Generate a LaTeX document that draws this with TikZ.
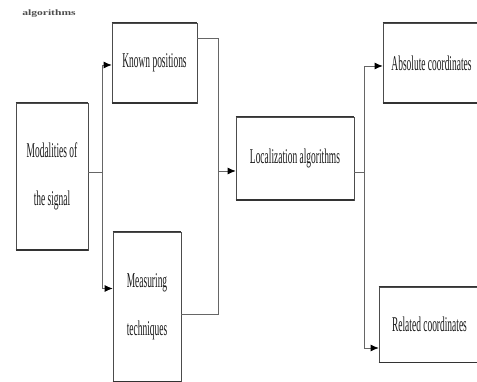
\documentclass[tikz,border=0pt]{standalone}
\usepackage{fontspec}
\setmainfont{Liberation Serif}
\usepackage{graphicx}
\usetikzlibrary{arrows.meta}
\newcommand{\sqz}[1]{\scalebox{0.45}[1]{#1}}
\begin{document}
\begin{tikzpicture}[x=1pt,y=-1pt,
  box/.style={draw=black!70, line width=0.6pt, inner sep=0pt, font=\fontsize{21}{48}\selectfont, text=black!90, align=center},
  edge/.style={draw=black!80, line width=1.6pt},
  conn/.style={draw=black!60, line width=0.8pt},
  arr/.style={conn, -{Latex[length=8pt,width=7pt,fill=black,color=black]}}]
\useasboundingbox (0,0) rectangle (477,382);
\node[font=\fontsize{11}{12}\selectfont\bfseries, text=black!70] (cap) at (49,14) {\scalebox{1.05}[0.75]{algorithms}};
\node[box, minimum width=72pt, minimum height=147pt] (mod) at (52,176.5) {\sqz{Modalities of}\\\sqz{the signal}};
\node[box, minimum width=85pt, minimum height=80pt] (known) at (154.5,63) {\sqz{Known positions}};
\node[box, minimum width=68pt, minimum height=149pt] (meas) at (147,306.5) {\sqz{Measuring}\\\sqz{techniques}};
\node[box, minimum width=118pt, minimum height=83pt] (loc) at (295,158.5) {\sqz{Localization algorithms}};
\node[box, minimum width=97pt, minimum height=80pt] (abs) at (431.5,63) {\sqz{Absolute coordinates}};
\node[box, minimum width=101pt, minimum height=75pt] (rel) at (429.5,324.5) {\sqz{Related coordinates}};
\foreach \n in {mod,known,meas,loc,abs,rel}{
  \draw[edge] (\n.north west) -- (\n.north east);
  \draw[edge] (\n.south west) -- (\n.south east);
}
\coordinate (j1) at (102,172);
\coordinate (j2) at (218,171);
\coordinate (j3) at (364,172);
\draw[conn] (mod.east |- j1) -- (j1);
\draw[arr] (j1) |- ([yshift=-2pt]known.west);
\draw[arr] (j1) |- ([yshift=18pt]meas.west);
\draw[conn] ([yshift=25pt]known.east) -| (j2);
\draw[conn] ([yshift=-7.5pt]meas.east) -| (j2);
\draw[arr] (j2) -- (loc.west |- j2);
\draw[conn] (loc.east |- j3) -- (j3);
\draw[arr] (j3) |- ([yshift=-3pt]abs.west);
\draw[arr] (j3) |- ([yshift=-23.5pt]rel.west);
\end{tikzpicture}
\end{document}
